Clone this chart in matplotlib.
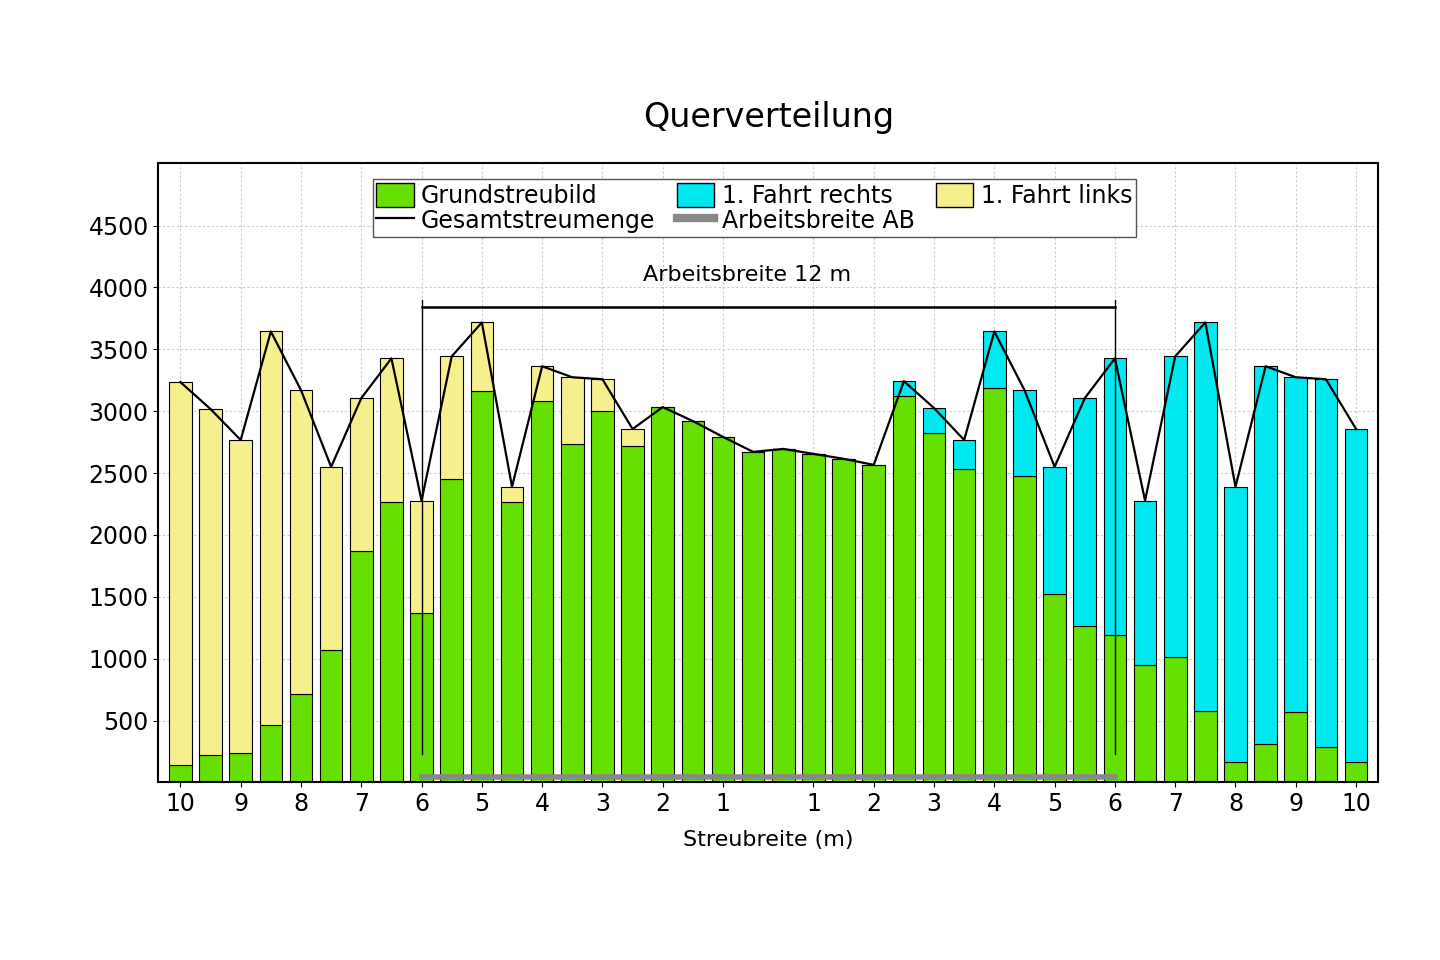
import numpy as np
import matplotlib.pyplot as plt
from matplotlib.lines import Line2D
from matplotlib.patches import Patch

# total spread amount per bin (Gesamtstreumenge) and base pattern (Grundstreubild)
total = [3235, 3017, 2767, 3644, 3170, 2550, 3105, 3427, 2277, 3443,
         3717, 2389, 3363, 3274, 3258, 2856, 3033, 2920, 2792, 2671,
         2695, 2655, 2615, 2566, 3242, 3025, 2767, 3644, 3170, 2550,
         3105, 3427, 2277, 3443, 3717, 2389, 3363, 3274, 3258, 2856]
green = [137, 225, 241, 467, 716, 1070, 1874, 2269, 1368, 2454,
         3162, 2269, 3081, 2735, 3001, 2719, 3033, 2920, 2792, 2671,
         2695, 2655, 2615, 2566, 3121, 2824, 2534, 3186, 2478, 1520,
         1263, 1191, 949, 1014, 579, 161, 314, 571, 290, 161]
tick_idx = [0, 2, 4, 6, 8, 10, 12, 14, 16, 18, 21, 23, 25, 27, 29, 31, 33, 35, 37, 39]
tick_lab = ["10", "9", "8", "7", "6", "5", "4", "3", "2", "1",
            "1", "2", "3", "4", "5", "6", "7", "8", "9", "10"]
ab_start, ab_end = 8, 31

C_GREEN = "#66e000"
C_CYAN = "#00e8f0"
C_YELLOW = "#f5ef8e"

x = np.arange(len(total))
total = np.array(total)
green = np.array(green)
rest = total - green
rest_col = [C_CYAN if i >= 24 else C_YELLOW for i in x]

fig = plt.figure(figsize=(14.4, 9.6), dpi=100)
ax = fig.add_axes([0.110, 0.185, 0.847, 0.645])
ax.grid(True, color="#cccccc", linestyle=(0, (2, 2)), linewidth=0.8)
ax.set_axisbelow(True)

ax.bar(x, green, width=0.75, color=C_GREEN, edgecolor="black", linewidth=0.8)
ax.bar(x, rest, bottom=green, width=0.75, color=rest_col, edgecolor="black", linewidth=0.8)
ax.plot(x, total, color="black", linewidth=1.6)

# Arbeitsbreite marker
ax.plot([ab_start, ab_end], [3845, 3845], color="black", linewidth=1.8)
for xi in (ab_start, ab_end):
    ax.plot([xi, xi], [230, 3900], color="black", linewidth=1.0)
ax.plot([ab_start, ab_end], [40, 40], color="#888888", linewidth=4)
ax.text((ab_start + ab_end) / 2 - 0.7, 4100, "Arbeitsbreite 12 m", ha="center", va="center", fontsize=16)

ax.set_xlim(-0.73, 39.73)
ax.set_ylim(0, 5004)
ax.set_yticks([500, 1000, 1500, 2000, 2500, 3000, 3500, 4000, 4500])
ax.set_xticks(tick_idx)
ax.set_xticklabels(tick_lab)
ax.tick_params(labelsize=17)
ax.set_xlabel("Streubreite (m)", fontsize=16, labelpad=10)
for s in ax.spines.values():
    s.set_linewidth(1.5)
ax.set_title("Querverteilung", fontsize=24, pad=26)

handles = [Patch(facecolor=C_GREEN, edgecolor="black"),
           Line2D([], [], color="black", linewidth=1.6),
           Patch(facecolor=C_CYAN, edgecolor="black"),
           Line2D([], [], color="#888888", linewidth=6),
           Patch(facecolor=C_YELLOW, edgecolor="black")]
labels = ["Grundstreubild", "Gesamtstreumenge", "1. Fahrt rechts", "Arbeitsbreite AB", "1. Fahrt links"]
ax.legend(handles, labels, ncol=3, loc="upper left", bbox_to_anchor=(0.166, 0.993),
          fontsize=17, frameon=True, fancybox=False, edgecolor="#555555",
          handlelength=1.6, handleheight=1.2, handletextpad=0.3, labelspacing=0.0,
          columnspacing=0.9, borderpad=0.15, framealpha=1)

fig.savefig("out.png", dpi=100)
